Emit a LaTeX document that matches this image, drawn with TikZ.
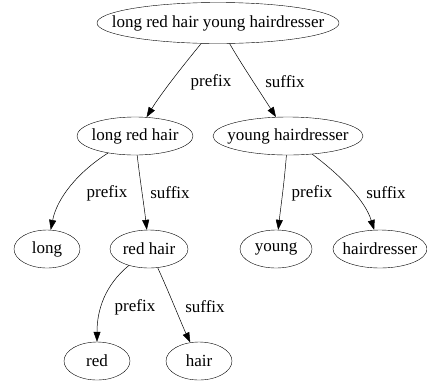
\documentclass[tikz,border=0pt]{standalone}
\usepackage{fontspec}
\setmainfont{Liberation Serif}
\usetikzlibrary{shapes.geometric,arrows.meta}
\newcommand{\nodetext}[1]{\makebox[0pt]{#1}}
\begin{document}
\begin{tikzpicture}[x=1pt,y=-1pt,
  nd/.style={draw,ellipse,inner sep=0pt,minimum height=38pt,font=\fontsize{17}{19}\selectfont},
  edge/.style={draw,line width=0.5pt,-{Triangle[length=10pt,width=7pt]}},
  lbl/.style={font=\fontsize{17}{19}\selectfont,inner sep=0pt}]
\useasboundingbox (0,0) rectangle (427,381);
\node[nd,minimum width=242pt,minimum height=41pt] (root) at (218,23) {\nodetext{long red hair young hairdresser}};
\node[nd,minimum width=116pt] (lrh) at (135,136) {\nodetext{long red hair}};
\node[nd,minimum width=150pt] (yh) at (288,136) {\nodetext{young hairdresser}};
\node[nd,minimum width=66pt] (long) at (47,249) {\nodetext{long}};
\node[nd,minimum width=78pt] (rh) at (149,249) {\nodetext{red hair}};
\node[nd,minimum width=72pt] (young) at (276,249) {\nodetext{young}};
\node[nd,minimum width=94pt] (hd) at (380,249) {\nodetext{hairdresser}};
\node[nd,minimum width=66pt] (red) at (97,361) {\nodetext{red}};
\node[nd,minimum width=66pt] (hair) at (199,361) {\nodetext{hair}};
\draw[edge] (root) .. controls (186,62) and (162,92) .. (lrh);
\draw[edge] (root) .. controls (240,62) and (262,95) .. (yh);
\draw[edge] (lrh) .. controls (78,172) and (57,198) .. (long);
\draw[edge] (lrh) .. controls (140,180) and (144,205) .. (rh);
\draw[edge] (yh) .. controls (284,185) and (281,205) .. (young);
\draw[edge] (yh) .. controls (340,175) and (365,200) .. (hd);
\draw[edge] (rh) .. controls (105,285) and (97,310) .. (red);
\draw[edge] (rh) .. controls (168,290) and (182,325) .. (hair);
\node[lbl] (l1) at (211,82) {prefix};
\node[lbl] (l2) at (285,82) {suffix};
\node[lbl] (l3) at (107,193) {prefix};
\node[lbl] (l4) at (170,193) {suffix};
\node[lbl] (l5) at (312,193) {prefix};
\node[lbl] (l6) at (386,193) {suffix};
\node[lbl] (l7) at (135,307) {prefix};
\node[lbl] (l8) at (205,307) {suffix};
\end{tikzpicture}
\end{document}
